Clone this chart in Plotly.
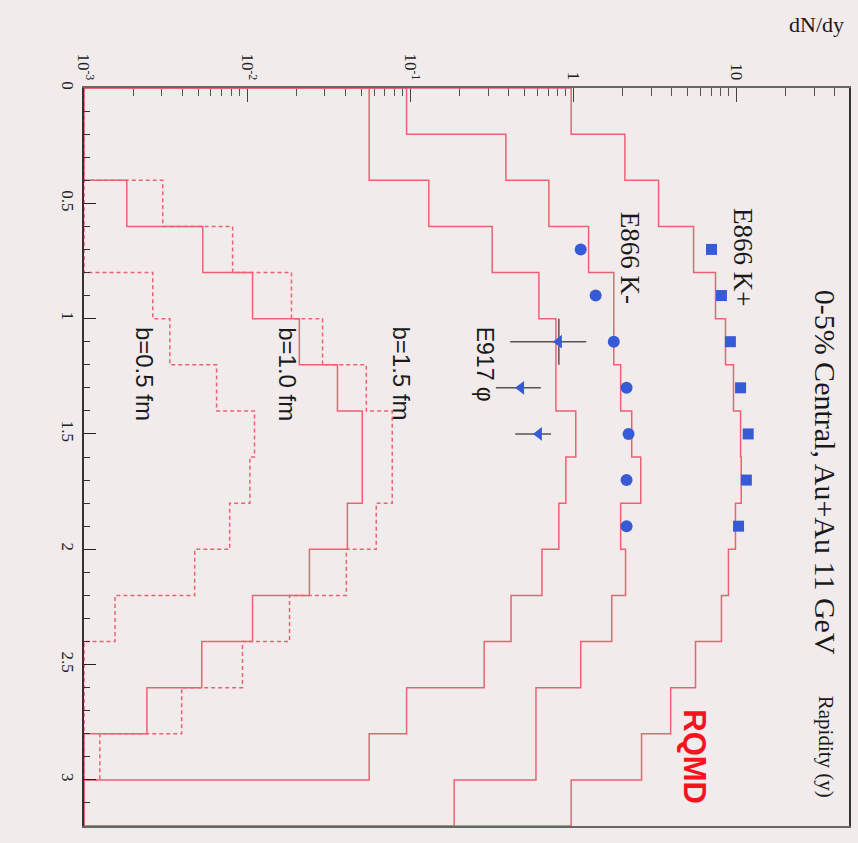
import plotly.graph_objects as go

# ---------------- data ----------------
# rapidity bin edges (bins of 0.2)
bin_edges = [0.0, 0.2, 0.4, 0.6, 0.8, 1.0, 1.2, 1.4, 1.6, 1.8, 2.0, 2.2, 2.4, 2.6, 2.8, 3.0, 3.2]

# RQMD histograms (dN/dy per rapidity bin), 0 = empty bin
rqmd_kplus = [0.97, 2.07, 3.33, 5.46, 7.44, 8.57, 9.59, 10.6, 10.7, 9.86, 8.93, 8.09, 5.61, 3.95, 2.62, 0.97]
rqmd_kminus = [0.095, 0.386, 0.708, 1.24, 1.77, 1.77, 1.95, 2.28, 2.59, 1.95, 2.09, 1.72, 1.11, 0.59, 0.59, 0.186]
rqmd_phi = [0.056, 0.056, 0.13, 0.318, 0.615, 0.782, 0.782, 1.035, 0.90, 0.815, 0.642, 0.415, 0.284, 0.095, 0.056, 0]
rqmd_b10_solid = [0, 0, 0.00183, 0.00535, 0.0108, 0.0209, 0.0358, 0.0508, 0.0508, 0.0412, 0.0241, 0.0108, 0.00527, 0.00243, 0, 0]
rqmd_b15_dash = [0, 0, 0.00304, 0.00815, 0.0187, 0.029, 0.0538, 0.0776, 0.0776, 0.0619, 0.0406, 0.0182, 0.00937, 0.00397, 0.00125, 0]
rqmd_b05_dash = [0, 0, 0, 0, 0.00264, 0.00336, 0.0065, 0.0111, 0.0104, 0.00782, 0.00477, 0.00155, 0, 0, 0, 0]

# E866 data
e866_y = [0.7, 0.9, 1.1, 1.3, 1.5, 1.7, 1.9]
e866_kplus = [7.03, 8.09, 9.18, 10.6, 11.8, 11.5, 10.3]
e866_kminus = [1.11, 1.37, 1.77, 2.12, 2.18, 2.12, 2.12]

# E917 phi data
e917_y = [1.1, 1.3, 1.5]
e917_phi = [0.815, 0.478, 0.615]
e917_err_plus = [0.385, 0.154, 0.115]
e917_err_minus = [0.405, 0.143, 0.175]
e917_yerr = [0.1, 0.0, 0.0]

# axis ticks
rap_ticks = [0, 0.5, 1, 1.5, 2, 2.5, 3]
rap_ticktext = ["0", "0.5", "1", "1.5", "2", "2.5", "3"]
dndy_ticks = [0.001, 0.01, 0.1, 1, 10]
dndy_ticktext = ["10<sup>-3</sup>", "10<sup>-2</sup>", "10<sup>-1</sup>", "1", "10"]

XMIN = 1e-3
LOG_MIN, LOG_MAX = -3.0, 1.69

RED = "rgb(236,98,114)"
BLUE = "rgb(55,90,215)"
BG = "rgb(241,235,236)"


def step_path(vals):
    xs, ys = [XMIN], [bin_edges[0]]
    for i, v in enumerate(vals):
        vv = max(v, XMIN)
        xs += [vv, vv]
        ys += [bin_edges[i], bin_edges[i + 1]]
    xs.append(XMIN)
    ys.append(bin_edges[-1])
    return xs, ys


fig = go.Figure()

for vals, dash in [(rqmd_kplus, "solid"), (rqmd_kminus, "solid"), (rqmd_phi, "solid"),
                   (rqmd_b10_solid, "solid"), (rqmd_b15_dash, "4px,3px"), (rqmd_b05_dash, "4px,3px")]:
    xs, ys = step_path(vals)
    fig.add_trace(go.Scatter(x=xs, y=ys, mode="lines",
                             line=dict(color=RED, width=1.5, dash=dash),
                             showlegend=False, hoverinfo="skip"))

fig.add_trace(go.Scatter(x=e866_kplus, y=e866_y, mode="markers",
                         marker=dict(symbol="square", size=11, color=BLUE),
                         showlegend=False))
fig.add_trace(go.Scatter(x=e866_kminus, y=e866_y, mode="markers",
                         marker=dict(symbol="circle", size=12, color=BLUE),
                         showlegend=False))
fig.add_trace(go.Scatter(x=e917_phi, y=e917_y, mode="markers",
                         marker=dict(symbol="triangle-left", size=12, color=BLUE),
                         error_x=dict(type="data", array=e917_err_plus, arrayminus=e917_err_minus,
                                      color="#555", thickness=1.5, width=0),
                         error_y=dict(type="data", array=e917_yerr, color="#555", thickness=1.5, width=0),
                         showlegend=False))

minor_vals = []
for dec in [0.001, 0.01, 0.1, 1, 10]:
    for m in range(2, 10):
        minor_vals.append(dec * m)

fig.update_xaxes(type="log", range=[LOG_MIN, LOG_MAX], side="top",
                 tickmode="array", tickvals=dndy_ticks, ticktext=dndy_ticktext,
                 tickangle=90, ticks="inside", ticklen=14, tickwidth=1.2, tickcolor="#444",
                 minor=dict(tickmode="array", tickvals=minor_vals, ticks="inside", ticklen=8,
                            tickwidth=1, tickcolor="#555"),
                 showgrid=False, zeroline=False, showline=True, mirror=True,
                 linecolor="#666", linewidth=1.5, layer="below traces",
                 tickfont=dict(family="Liberation Serif", size=17, color="#222"))
fig.update_yaxes(range=[3.2, 0], tickmode="array", tickvals=rap_ticks, ticktext=rap_ticktext,
                 tickangle=90, ticks="inside", ticklen=12, tickwidth=1.2, tickcolor="#222",
                 minor=dict(dtick=0.1, ticks="inside", ticklen=6, tickwidth=1, tickcolor="#333"),
                 showgrid=False, zeroline=False, showline=True, mirror=True,
                 linecolor="#333", linewidth=1.5, layer="above traces",
                 tickfont=dict(family="Liberation Serif", size=17, color="#222"))

ann = []
serif = "Liberation Serif"
sans = "Liberation Sans"
ann.append(dict(x=1.545, y=1.665, text="0-5% Central, Au+Au 11 GeV", font=dict(family=serif, size=30, color="#1a1a1a")))
ann.append(dict(x=1.043, y=0.735, text="E866 K+", font=dict(family=serif, size=27, color="#1a1a1a")))
ann.append(dict(x=0.352, y=0.735, text="E866 K-", font=dict(family=serif, size=27, color="#1a1a1a")))
ann.append(dict(x=-0.541, y=1.196, text="E917 \u03c6", font=dict(family=sans, size=23, color="#1a1a1a")))
ann.append(dict(x=-1.055, y=1.239, text="b=1.5 fm", font=dict(family=sans, size=24, color="#1a1a1a")))
ann.append(dict(x=-1.752, y=1.239, text="b=1.0 fm", font=dict(family=sans, size=24, color="#1a1a1a")))
ann.append(dict(x=-2.633, y=1.239, text="b=0.5 fm", font=dict(family=sans, size=24, color="#1a1a1a")))
ann.append(dict(x=0.743, y=2.90, text="<b>RQMD</b>", font=dict(family=sans, size=31, color="rgb(245,20,30)")))
ann.append(dict(x=1.55, y=2.857, text="Rapidity (y)", font=dict(family=serif, size=21, color="#1a1a1a")))
for a in ann:
    a.update(xref="x", yref="y", showarrow=False, textangle=90, xanchor="center", yanchor="middle")

ann.append(dict(xref="paper", yref="paper", x=(818 - 84) / 767, y=1 + (88 - 25) / 738,
                text="dN/dy", showarrow=False, xanchor="center", yanchor="middle",
                font=dict(family=serif, size=22, color="#1a1a1a")))

fig.update_layout(width=858, height=843, margin=dict(l=84, r=7, t=88, b=17),
                  paper_bgcolor=BG, plot_bgcolor=BG, annotations=ann, showlegend=False)

fig.write_html("out.html")
